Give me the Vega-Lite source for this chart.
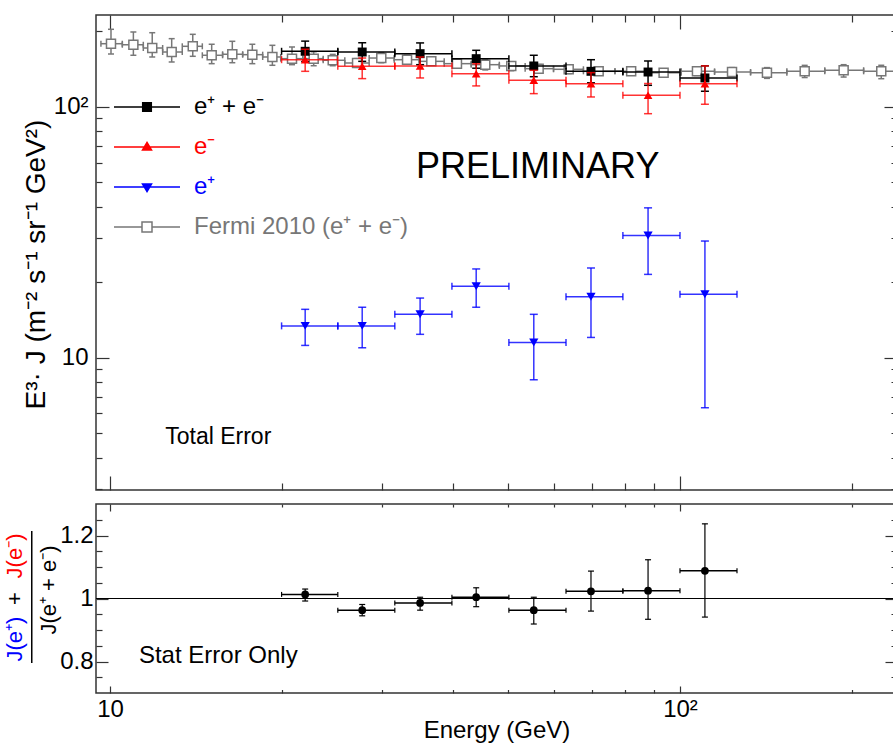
{
  "$schema": "https://vega.github.io/schema/vega-lite/v6.json",
  "padding": {"left": 3, "top": 13, "right": 0, "bottom": 0},
  "spacing": 10,
  "config": {
    "font": "Liberation Sans",
    "view": {"stroke": "#333333", "strokeWidth": 1.5},
    "axis": {"grid": false, "domain": false, "tickColor": "#333333", "tickWidth": 1.2, "labelFont": "Liberation Sans", "titleFont": "Liberation Sans", "labelColor": "#000000", "titleColor": "#000000", "labelFlush": false, "labelOverlap": false, "titleFontWeight": "normal"}
  },
  "datasets": {
    "fermi": [
      {"e": 10.04, "elo": 9.64, "ehi": 10.51, "v": 178.7, "lo": 162.6, "hi": 204.0},
      {"e": 10.99, "elo": 10.51, "ehi": 11.44, "v": 177.0, "lo": 160.7, "hi": 199.0},
      {"e": 11.86, "elo": 11.44, "ehi": 12.37, "v": 171.8, "lo": 158.2, "hi": 197.7},
      {"e": 12.83, "elo": 12.37, "ehi": 13.39, "v": 165.6, "lo": 151.1, "hi": 187.2},
      {"e": 13.97, "elo": 13.39, "ehi": 14.52, "v": 174.5, "lo": 159.2, "hi": 194.8},
      {"e": 15.08, "elo": 14.52, "ehi": 15.76, "v": 160.7, "lo": 148.8, "hi": 177.8},
      {"e": 16.39, "elo": 15.76, "ehi": 17.09, "v": 162.2, "lo": 150.1, "hi": 182.7},
      {"e": 17.77, "elo": 17.09, "ehi": 18.53, "v": 161.6, "lo": 148.8, "hi": 177.8},
      {"e": 19.27, "elo": 18.53, "ehi": 19.93, "v": 158.2, "lo": 146.6, "hi": 176.1},
      {"e": 20.86, "elo": 19.93, "ehi": 21.79, "v": 155.8, "lo": 147.4, "hi": 173.4},
      {"e": 22.77, "elo": 21.79, "ehi": 23.66, "v": 155.8, "lo": 146.0, "hi": 166.0},
      {"e": 24.59, "elo": 23.66, "ehi": 25.82, "v": 153.5, "lo": 146.0, "hi": 162.0},
      {"e": 27.13, "elo": 25.82, "ehi": 28.49, "v": 149.7, "lo": 143.9, "hi": 155.8},
      {"e": 29.92, "elo": 28.49, "ehi": 31.52, "v": 156.7, "lo": 150.1, "hi": 164.6},
      {"e": 33.2, "elo": 31.52, "ehi": 34.87, "v": 154.3, "lo": 148.0, "hi": 160.7},
      {"e": 36.62, "elo": 34.87, "ehi": 38.58, "v": 152.0, "lo": 146.6, "hi": 158.2},
      {"e": 40.62, "elo": 38.58, "ehi": 43.02, "v": 148.8, "lo": 143.0, "hi": 154.9},
      {"e": 45.54, "elo": 43.02, "ehi": 48.2, "v": 147.4, "lo": 140.5, "hi": 155.0},
      {"e": 50.58, "elo": 48.2, "ehi": 53.5, "v": 145.7, "lo": 139.5, "hi": 151.5},
      {"e": 56.5, "elo": 53.5, "ehi": 60.0, "v": 142.1, "lo": 136.5, "hi": 147.5},
      {"e": 63.79, "elo": 60.0, "ehi": 67.7, "v": 141.3, "lo": 136.0, "hi": 146.5},
      {"e": 72.0, "elo": 67.7, "ehi": 76.9, "v": 138.7, "lo": 134.0, "hi": 143.5},
      {"e": 82.1, "elo": 76.9, "ehi": 87.7, "v": 138.7, "lo": 134.0, "hi": 143.5},
      {"e": 93.6, "elo": 87.7, "ehi": 100.5, "v": 137.0, "lo": 132.5, "hi": 141.5},
      {"e": 107.1, "elo": 100.5, "ehi": 115.0, "v": 138.7, "lo": 133.5, "hi": 144.0},
      {"e": 123.4, "elo": 115.0, "ehi": 133.0, "v": 137.8, "lo": 132.5, "hi": 143.5},
      {"e": 142.1, "elo": 133.0, "ehi": 154.0, "v": 137.0, "lo": 130.0, "hi": 143.5},
      {"e": 165.5, "elo": 154.0, "ehi": 179.5, "v": 138.7, "lo": 131.0, "hi": 146.5},
      {"e": 193.7, "elo": 179.5, "ehi": 210.0, "v": 140.1, "lo": 131.6, "hi": 147.4},
      {"e": 225.5, "elo": 210.0, "ehi": 243.0, "v": 138.7, "lo": 129.6, "hi": 146.6}
    ],
    "ams": [
      {"e": 22.0, "elo": 20.0, "ehi": 25.1, "tot": 166.7, "totLo": 151.6, "totHi": 183.0, "em": 154.3, "emLo": 138.7, "emHi": 169.8, "ep": 13.4, "epLo": 11.2, "epHi": 15.6, "r": 1.013, "rLo": 0.992, "rHi": 1.03},
      {"e": 27.7, "elo": 25.1, "ehi": 31.6, "tot": 165.6, "totLo": 152.0, "totHi": 180.3, "em": 145.3, "emLo": 129.7, "emHi": 156.7, "ep": 13.4, "epLo": 10.96, "epHi": 15.9, "r": 0.963, "rLo": 0.945, "rHi": 0.981},
      {"e": 35.0, "elo": 31.6, "ehi": 39.8, "tot": 163.1, "totLo": 147.4, "totHi": 180.0, "em": 145.7, "emLo": 130.5, "emHi": 158.2, "ep": 14.9, "epLo": 12.4, "epHi": 17.3, "r": 0.986, "rLo": 0.963, "rHi": 1.004},
      {"e": 43.9, "elo": 39.8, "ehi": 50.1, "tot": 155.8, "totLo": 142.7, "totHi": 168.2, "em": 135.7, "emLo": 121.3, "emHi": 148.7, "ep": 19.3, "epLo": 15.9, "epHi": 22.6, "r": 1.004, "rLo": 0.974, "rHi": 1.034},
      {"e": 55.4, "elo": 50.1, "ehi": 63.1, "tot": 145.7, "totLo": 132.0, "totHi": 160.7, "em": 127.7, "emLo": 113.0, "emHi": 140.0, "ep": 11.5, "epLo": 8.17, "epHi": 14.9, "r": 0.963, "rLo": 0.919, "rHi": 1.004},
      {"e": 69.8, "elo": 63.1, "ehi": 79.4, "tot": 138.7, "totLo": 124.8, "totHi": 154.3, "em": 123.8, "emLo": 109.6, "emHi": 137.0, "ep": 17.5, "epLo": 12.05, "epHi": 22.8, "r": 1.023, "rLo": 0.96, "rHi": 1.087},
      {"e": 87.9, "elo": 79.4, "ehi": 100.0, "tot": 137.8, "totLo": 122.0, "totHi": 152.5, "em": 111.3, "emLo": 94.0, "emHi": 124.0, "ep": 30.7, "epLo": 21.5, "epHi": 39.6, "r": 1.025, "rLo": 0.934, "rHi": 1.123},
      {"e": 110.6, "elo": 100.0, "ehi": 125.9, "tot": 130.5, "totLo": 115.5, "totHi": 145.8, "em": 123.8, "emLo": 102.5, "emHi": 145.8, "ep": 17.9, "epLo": 6.32, "epHi": 29.2, "r": 1.088, "rLo": 0.941, "rHi": 1.237}
    ],
    "legend": [
      {"s": "e⁺ + e⁻"},
      {"s": "e⁻"},
      {"s": "e⁺"},
      {"s": "Fermi 2010 (e⁺ + e⁻)"}
    ]
  },
  "vconcat": [
    {
      "width": 801,
      "height": 475,
      "resolve": {"axis": {"x": "independent", "y": "independent"}},
      "layer": [
        {
          "data": {"name": "fermi"},
          "mark": {"type": "rule", "color": "#777777", "strokeWidth": 1.5},
          "encoding": {
            "x": {"field": "elo", "type": "quantitative", "scale": {"type": "log", "domain": [9.45, 240.3], "nice": false}, "axis": {"orient": "bottom", "values": [10, 100], "labels": false, "tickSize": -14, "title": null}},
            "x2": {"field": "ehi"},
            "y": {"field": "v", "type": "quantitative", "scale": {"type": "log", "domain": [2.97, 232.6], "nice": false}, "axis": {"orient": "left", "values": [10, 100], "tickSize": -13, "labelPadding": 21, "labelFontSize": 24, "labelExpr": "datum.value == 100 ? '10²' : '10'", "title": "E³· J  (m⁻² s⁻¹ sr⁻¹ GeV²)", "titleFontSize": 28, "titleAngle": 270, "titleX": -60, "titleY": 249, "titleAlign": "center", "titleBaseline": "middle"}}
          }
        },
        {
          "data": {"name": "fermi"},
          "mark": {"type": "rule", "color": "#777777", "strokeWidth": 1.5},
          "encoding": {
            "x": {"field": "e", "type": "quantitative", "axis": {"orient": "bottom", "values": [20, 30, 40, 50, 60, 70, 80, 90, 200], "labels": false, "tickSize": -7, "title": null}},
            "y": {"field": "lo", "type": "quantitative", "axis": {"orient": "left", "values": [3, 4, 5, 6, 7, 8, 9, 20, 30, 40, 50, 60, 70, 80, 90, 200], "labels": false, "tickSize": -6, "title": null}},
            "y2": {"field": "hi"}
          }
        },
        {
          "data": {"name": "fermi"},
          "transform": [{"fold": ["lo", "hi"], "as": ["k", "val"]}],
          "mark": {"type": "tick", "orient": "horizontal", "size": 6, "thickness": 1.5, "color": "#777777", "opacity": 1},
          "encoding": {
            "x": {"field": "e", "type": "quantitative", "axis": {"orient": "top", "values": [10, 100], "labels": false, "tickSize": -14, "title": null}},
            "y": {"field": "val", "type": "quantitative", "axis": {"orient": "right", "values": [10, 100], "labels": false, "tickSize": -13, "title": null}}
          }
        },
        {
          "data": {"name": "fermi"},
          "transform": [{"fold": ["elo", "ehi"], "as": ["k", "ev"]}],
          "mark": {"type": "tick", "orient": "vertical", "size": 6, "thickness": 1.5, "color": "#777777", "opacity": 1},
          "encoding": {
            "x": {"field": "ev", "type": "quantitative", "axis": {"orient": "top", "values": [20, 30, 40, 50, 60, 70, 80, 90, 200], "labels": false, "tickSize": -7, "title": null}},
            "y": {"field": "v", "type": "quantitative", "axis": {"orient": "right", "values": [3, 4, 5, 6, 7, 8, 9, 20, 30, 40, 50, 60, 70, 80, 90, 200], "labels": false, "tickSize": -6, "title": null}}
          }
        },
        {
          "data": {"name": "fermi"},
          "mark": {"type": "point", "shape": "square", "filled": true, "fill": "#ffffff", "stroke": "#777777", "strokeWidth": 1.5, "size": 81, "opacity": 1},
          "encoding": {
            "x": {"field": "e", "type": "quantitative", "axis": null},
            "y": {"field": "v", "type": "quantitative", "axis": null}
          }
        },
        {
          "data": {"name": "ams"},
          "mark": {"type": "rule", "color": "#000000", "strokeWidth": 1.5},
          "encoding": {
            "x": {"field": "elo", "type": "quantitative", "axis": null},
            "x2": {"field": "ehi"},
            "y": {"field": "tot", "type": "quantitative", "axis": null}
          }
        },
        {
          "data": {"name": "ams"},
          "mark": {"type": "rule", "color": "#000000", "strokeWidth": 1.5},
          "encoding": {
            "x": {"field": "e", "type": "quantitative", "axis": null},
            "y": {"field": "totLo", "type": "quantitative", "axis": null},
            "y2": {"field": "totHi"}
          }
        },
        {
          "data": {"name": "ams"},
          "transform": [{"fold": ["totLo", "totHi"], "as": ["k", "val"]}],
          "mark": {"type": "tick", "orient": "horizontal", "size": 8, "thickness": 1.5, "color": "#000000", "opacity": 1},
          "encoding": {
            "x": {"field": "e", "type": "quantitative", "axis": null},
            "y": {"field": "val", "type": "quantitative", "axis": null}
          }
        },
        {
          "data": {"name": "ams"},
          "transform": [{"fold": ["elo", "ehi"], "as": ["k", "ev"]}],
          "mark": {"type": "tick", "orient": "vertical", "size": 7, "thickness": 1.5, "color": "#000000", "opacity": 1},
          "encoding": {
            "x": {"field": "ev", "type": "quantitative", "axis": null},
            "y": {"field": "tot", "type": "quantitative", "axis": null}
          }
        },
        {
          "data": {"name": "ams"},
          "mark": {"type": "point", "shape": "square", "filled": true, "color": "#000000", "size": 80, "opacity": 1},
          "encoding": {
            "x": {"field": "e", "type": "quantitative", "axis": null},
            "y": {"field": "tot", "type": "quantitative", "axis": null}
          }
        },
        {
          "data": {"name": "ams"},
          "mark": {"type": "rule", "color": "#ff0000", "strokeWidth": 1.5, "strokeOpacity": 0.8},
          "encoding": {
            "x": {"field": "elo", "type": "quantitative", "axis": null},
            "x2": {"field": "ehi"},
            "y": {"field": "em", "type": "quantitative", "axis": null}
          }
        },
        {
          "data": {"name": "ams"},
          "mark": {"type": "rule", "color": "#ff0000", "strokeWidth": 1.5, "strokeOpacity": 0.8},
          "encoding": {
            "x": {"field": "e", "type": "quantitative", "axis": null},
            "y": {"field": "emLo", "type": "quantitative", "axis": null},
            "y2": {"field": "emHi"}
          }
        },
        {
          "data": {"name": "ams"},
          "transform": [{"fold": ["emLo", "emHi"], "as": ["k", "val"]}],
          "mark": {"type": "tick", "orient": "horizontal", "size": 8, "thickness": 1.5, "color": "#ff0000", "opacity": 0.8},
          "encoding": {
            "x": {"field": "e", "type": "quantitative", "axis": null},
            "y": {"field": "val", "type": "quantitative", "axis": null}
          }
        },
        {
          "data": {"name": "ams"},
          "transform": [{"fold": ["elo", "ehi"], "as": ["k", "ev"]}],
          "mark": {"type": "tick", "orient": "vertical", "size": 7, "thickness": 1.5, "color": "#ff0000", "opacity": 0.8},
          "encoding": {
            "x": {"field": "ev", "type": "quantitative", "axis": null},
            "y": {"field": "em", "type": "quantitative", "axis": null}
          }
        },
        {
          "data": {"name": "ams"},
          "mark": {"type": "point", "shape": "triangle-up", "filled": true, "color": "#ff0000", "size": 75, "opacity": 1},
          "encoding": {
            "x": {"field": "e", "type": "quantitative", "axis": null},
            "y": {"field": "em", "type": "quantitative", "axis": null}
          }
        },
        {
          "data": {"name": "ams"},
          "mark": {"type": "rule", "color": "#0000ff", "strokeWidth": 1.5, "strokeOpacity": 0.8},
          "encoding": {
            "x": {"field": "elo", "type": "quantitative", "axis": null},
            "x2": {"field": "ehi"},
            "y": {"field": "ep", "type": "quantitative", "axis": null}
          }
        },
        {
          "data": {"name": "ams"},
          "mark": {"type": "rule", "color": "#0000ff", "strokeWidth": 1.5, "strokeOpacity": 0.8},
          "encoding": {
            "x": {"field": "e", "type": "quantitative", "axis": null},
            "y": {"field": "epLo", "type": "quantitative", "axis": null},
            "y2": {"field": "epHi"}
          }
        },
        {
          "data": {"name": "ams"},
          "transform": [{"fold": ["epLo", "epHi"], "as": ["k", "val"]}],
          "mark": {"type": "tick", "orient": "horizontal", "size": 8, "thickness": 1.5, "color": "#0000ff", "opacity": 0.8},
          "encoding": {
            "x": {"field": "e", "type": "quantitative", "axis": null},
            "y": {"field": "val", "type": "quantitative", "axis": null}
          }
        },
        {
          "data": {"name": "ams"},
          "transform": [{"fold": ["elo", "ehi"], "as": ["k", "ev"]}],
          "mark": {"type": "tick", "orient": "vertical", "size": 7, "thickness": 1.5, "color": "#0000ff", "opacity": 0.8},
          "encoding": {
            "x": {"field": "ev", "type": "quantitative", "axis": null},
            "y": {"field": "ep", "type": "quantitative", "axis": null}
          }
        },
        {
          "data": {"name": "ams"},
          "mark": {"type": "point", "shape": "triangle-down", "filled": true, "color": "#0000ff", "size": 85, "opacity": 1},
          "encoding": {
            "x": {"field": "e", "type": "quantitative", "axis": null},
            "y": {"field": "ep", "type": "quantitative", "axis": null}
          }
        },
        {
          "data": {"name": "legend"},
          "mark": {"type": "point", "clip": true, "opacity": 1, "strokeWidth": 1.5, "size": 400},
          "encoding": {
            "x": {"datum": 1, "axis": null},
            "y": {"datum": 1, "axis": null},
            "shape": {"field": "s", "type": "nominal", "scale": {"domain": ["e⁺ + e⁻", "e⁻", "e⁺", "Fermi 2010 (e⁺ + e⁻)"], "range": ["M-3.3,0H3.3M-0.43,-0.43H0.43V0.43H-0.43Z", "M-3.3,0H3.3M0,-0.45L0.45,0.3H-0.45Z", "M-3.3,0H3.3M0,0.45L0.45,-0.3H-0.45Z", "M-3.3,0H-0.5M0.5,0H3.3M-0.5,-0.5H0.5V0.5H-0.5Z"]}, "legend": {"orient": "none", "legendX": 39, "legendY": 80, "title": null, "padding": 0, "symbolSize": 400, "symbolStrokeWidth": 1.5, "labelFontSize": 24, "labelOffset": 35, "rowPadding": 16, "labelLimit": 600, "labelFont": "Liberation Sans", "labelColor": {"expr": "datum.value === 'e⁻' ? '#ff0000' : datum.value === 'e⁺' ? '#0000ff' : datum.value === 'e⁺ + e⁻' ? '#000000' : '#777777'"}}},
            "fill": {"field": "s", "type": "nominal", "scale": {"domain": ["e⁺ + e⁻", "e⁻", "e⁺", "Fermi 2010 (e⁺ + e⁻)"], "range": ["#000000", "#ff0000", "#0000ff", "#ffffff"]}, "legend": {"orient": "none", "legendX": 39, "legendY": 80, "title": null, "padding": 0, "symbolSize": 400, "symbolStrokeWidth": 1.5, "labelFontSize": 24, "labelOffset": 35, "rowPadding": 16, "labelLimit": 600, "labelFont": "Liberation Sans", "labelColor": {"expr": "datum.value === 'e⁻' ? '#ff0000' : datum.value === 'e⁺' ? '#0000ff' : datum.value === 'e⁺ + e⁻' ? '#000000' : '#777777'"}}},
            "stroke": {"field": "s", "type": "nominal", "scale": {"domain": ["e⁺ + e⁻", "e⁻", "e⁺", "Fermi 2010 (e⁺ + e⁻)"], "range": ["#000000", "#ff0000", "#0000ff", "#777777"]}, "legend": {"orient": "none", "legendX": 39, "legendY": 80, "title": null, "padding": 0, "symbolSize": 400, "symbolStrokeWidth": 1.5, "labelFontSize": 24, "labelOffset": 35, "rowPadding": 16, "labelLimit": 600, "labelFont": "Liberation Sans", "labelColor": {"expr": "datum.value === 'e⁻' ? '#ff0000' : datum.value === 'e⁺' ? '#0000ff' : datum.value === 'e⁺ + e⁻' ? '#000000' : '#777777'"}}}
          }
        },
        {
          "data": {"values": [{"label": "PRELIMINARY"}]},
          "mark": {"type": "text", "fontSize": 36, "align": "center", "baseline": "middle", "color": "#000000"},
          "encoding": {
            "x": {"datum": 56.3, "axis": null},
            "y": {"datum": 57.5, "axis": null},
            "text": {"field": "label"}
          }
        },
        {
          "data": {"values": [{"label": "Total Error"}]},
          "mark": {"type": "text", "fontSize": 23, "align": "left", "baseline": "middle", "color": "#000000"},
          "encoding": {
            "x": {"datum": 12.5, "axis": null},
            "y": {"datum": 4.81, "axis": null},
            "text": {"field": "label"}
          }
        }
      ]
    },
    {
      "width": 801,
      "height": 189,
      "resolve": {"axis": {"x": "independent", "y": "independent"}},
      "layer": [
        {
          "data": {"name": "ams"},
          "mark": {"type": "rule", "color": "#000000", "strokeWidth": 1.5},
          "encoding": {
            "x": {"field": "elo", "type": "quantitative", "scale": {"type": "log", "domain": [9.45, 240.3], "nice": false}, "axis": {"orient": "bottom", "values": [10, 100], "tickSize": -7, "labelPadding": 11, "labelFontSize": 24, "labelExpr": "datum.value == 100 ? '10²' : '10'", "title": "Energy (GeV)", "titleFontSize": 24, "titlePadding": -3}},
            "x2": {"field": "ehi"},
            "y": {"field": "r", "type": "quantitative", "scale": {"domain": [0.7, 1.3], "nice": false, "zero": false}, "axis": {"orient": "left", "values": [0.8, 1, 1.2], "tickSize": -12, "labelPadding": 15, "labelFontSize": 24, "labelExpr": "datum.value == 1 ? '1' : format(datum.value, '.1f')", "title": null}}
          }
        },
        {
          "data": {"name": "ams"},
          "mark": {"type": "rule", "color": "#000000", "strokeWidth": 1.2},
          "encoding": {
            "x": {"field": "e", "type": "quantitative", "axis": {"orient": "bottom", "values": [20, 30, 40, 50, 60, 70, 80, 90, 200], "labels": false, "tickSize": -3.5, "title": null}},
            "y": {"field": "rLo", "type": "quantitative", "axis": {"orient": "left", "values": [0.75, 0.85, 0.9, 0.95, 1.05, 1.1, 1.15, 1.25], "labels": false, "tickSize": -6, "title": null}},
            "y2": {"field": "rHi"}
          }
        },
        {
          "data": {"name": "ams"},
          "transform": [{"fold": ["rLo", "rHi"], "as": ["k", "val"]}],
          "mark": {"type": "tick", "orient": "horizontal", "size": 6, "thickness": 1.2, "color": "#000000", "opacity": 1},
          "encoding": {
            "x": {"field": "e", "type": "quantitative", "axis": {"orient": "top", "values": [10, 100], "labels": false, "tickSize": -7, "title": null}},
            "y": {"field": "val", "type": "quantitative", "axis": {"orient": "right", "values": [0.8, 1, 1.2], "labels": false, "tickSize": -12, "title": null}}
          }
        },
        {
          "data": {"name": "ams"},
          "transform": [{"fold": ["elo", "ehi"], "as": ["k", "ev"]}],
          "mark": {"type": "tick", "orient": "vertical", "size": 5, "thickness": 1.2, "color": "#000000", "opacity": 1},
          "encoding": {
            "x": {"field": "ev", "type": "quantitative", "axis": {"orient": "top", "values": [20, 30, 40, 50, 60, 70, 80, 90, 200], "labels": false, "tickSize": -3, "title": null}},
            "y": {"field": "r", "type": "quantitative", "axis": {"orient": "right", "values": [0.75, 0.85, 0.9, 0.95, 1.05, 1.1, 1.15, 1.25], "labels": false, "tickSize": -6, "title": null}}
          }
        },
        {
          "data": {"name": "ams"},
          "mark": {"type": "rule", "color": "#000000", "strokeWidth": 1.2},
          "encoding": {
            "y": {"datum": 1, "axis": null}
          }
        },
        {
          "data": {"name": "ams"},
          "mark": {"type": "circle", "color": "#000000", "size": 60, "opacity": 1},
          "encoding": {
            "x": {"field": "e", "type": "quantitative", "axis": null},
            "y": {"field": "r", "type": "quantitative", "axis": null}
          }
        },
        {
          "data": {"values": [{"label": "Stat Error Only"}]},
          "mark": {"type": "text", "fontSize": 24, "align": "left", "baseline": "middle", "color": "#000000"},
          "encoding": {
            "x": {"datum": 11.24, "axis": null},
            "y": {"datum": 0.816, "axis": null},
            "text": {"field": "label"}
          }
        },
        {
          "data": {"values": [{"label": "J(e⁺)"}]},
          "mark": {"type": "text", "fontSize": 22, "align": "center", "baseline": "middle", "angle": 270, "color": "#0000ff"},
          "encoding": {
            "x": {"datum": 6.81, "axis": null},
            "y": {"datum": 0.871, "axis": null},
            "text": {"field": "label"}
          }
        },
        {
          "data": {"values": [{"label": "+"}]},
          "mark": {"type": "text", "fontSize": 22, "align": "center", "baseline": "middle", "angle": 270, "color": "#000000"},
          "encoding": {
            "x": {"datum": 6.81, "axis": null},
            "y": {"datum": 1.0, "axis": null},
            "text": {"field": "label"}
          }
        },
        {
          "data": {"values": [{"label": "J(e⁻)"}]},
          "mark": {"type": "text", "fontSize": 22, "align": "center", "baseline": "middle", "angle": 270, "color": "#ff0000"},
          "encoding": {
            "x": {"datum": 6.81, "axis": null},
            "y": {"datum": 1.135, "axis": null},
            "text": {"field": "label"}
          }
        },
        {
          "data": {"values": [{"label": "J(e⁺ + e⁻)"}]},
          "mark": {"type": "text", "fontSize": 22, "align": "center", "baseline": "middle", "angle": 270, "color": "#000000"},
          "encoding": {
            "x": {"datum": 7.82, "axis": null},
            "y": {"datum": 1.027, "axis": null},
            "text": {"field": "label"}
          }
        },
        {
          "data": {"values": [{}]},
          "mark": {"type": "rule", "color": "#000000", "strokeWidth": 1.5},
          "encoding": {
            "x": {"datum": 7.29, "axis": null},
            "y": {"datum": 0.795, "axis": null},
            "y2": {"datum": 1.214}
          }
        }
      ]
    }
  ]
}
